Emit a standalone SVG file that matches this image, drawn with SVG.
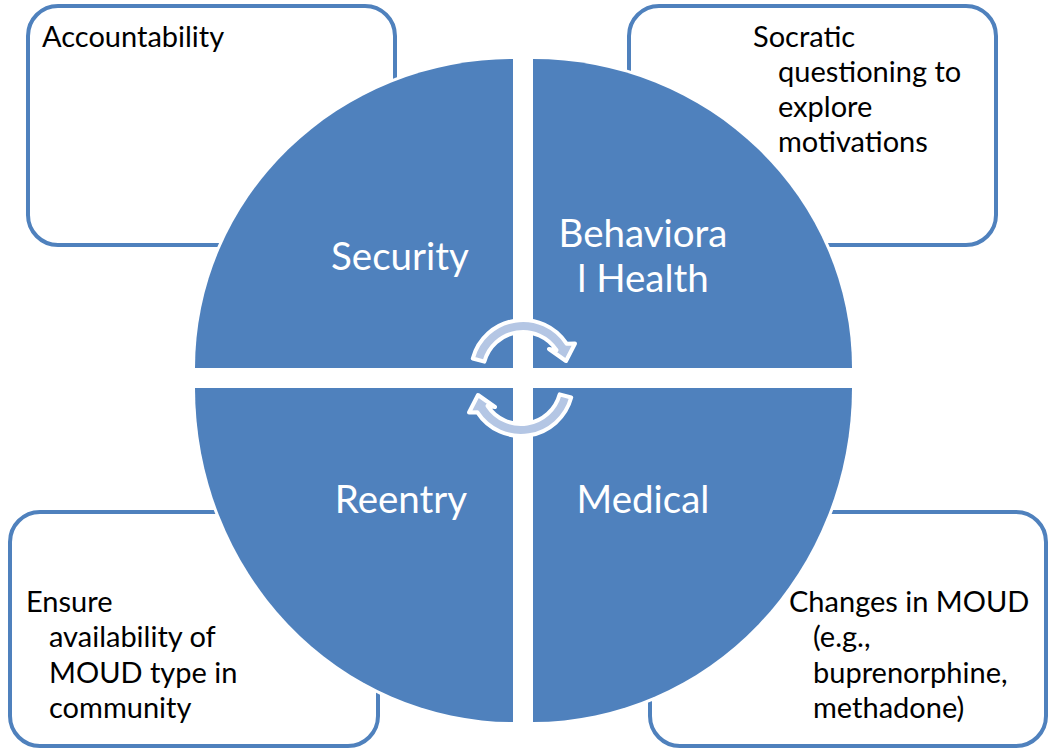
<svg xmlns="http://www.w3.org/2000/svg" width="1050" height="751" viewBox="0 0 1050 751">
<style>
.box{fill:#ffffff;stroke:#4F81BD;stroke-width:4}
.bt{font-family:Lato,"Liberation Sans",sans-serif;font-size:29px;fill:#000000}
.qt{font-family:Lato,"Liberation Sans",sans-serif;font-size:38.5px;fill:#ffffff;text-anchor:middle}
.halo{fill:#ffffff;stroke:#ffffff;stroke-width:6}
.quad{fill:#4F81BD}
.arr{fill:#B4C6E4;stroke:#ffffff;stroke-width:4;stroke-linejoin:round}
</style>
<defs>
<path id="arrowTop" class="arr" d="M472.8,358.5 A52,52 0 0 1 566.6,343.7 L575,343.5 L566,361 L549,349 L556.5,350.2 A40,40 0 0 0 484.4,361.6 Z"/>
</defs>
<rect width="1050" height="751" fill="#ffffff"/>
<g id="box-accountability"><rect class="box" x="28" y="6" width="367" height="239" rx="30"/><text class="bt" x="42" y="47">Accountability</text></g>
<g id="box-socratic"><rect class="box" x="629" y="6" width="367" height="239" rx="30"/><text class="bt"><tspan x="753" y="47">Socratic</tspan><tspan x="778" y="82">questioning to</tspan><tspan x="778" y="117">explore</tspan><tspan x="778" y="152">motivations</tspan></text></g>
<g id="box-ensure"><rect class="box" x="10" y="512" width="368" height="234" rx="30"/><text class="bt"><tspan x="26" y="612">Ensure</tspan><tspan x="49" y="647">availability of</tspan><tspan x="49" y="683">MOUD type in</tspan><tspan x="49" y="718">community</tspan></text></g>
<g id="box-changes"><rect class="box" x="650" y="512" width="396" height="234" rx="30"/><text class="bt"><tspan x="789" y="612">Changes in MOUD</tspan><tspan x="813" y="647">(e.g.,</tspan><tspan x="813" y="683">buprenorphine,</tspan><tspan x="813" y="718">methadone)</tspan></text></g>
<g id="halo">
<path class="halo" d="M513,368 L195,368 A318,309 0 0 1 513,59 Z"/>
<path class="halo" d="M533,368 L533,59 A319,309 0 0 1 852,368 Z"/>
<path class="halo" d="M513,388 L513,722 A318,334 0 0 1 195,388 Z"/>
<path class="halo" d="M533,388 L852,388 A319,334 0 0 1 533,722 Z"/>
</g>
<g id="security"><path class="quad" d="M513,368 L195,368 A318,309 0 0 1 513,59 Z"/><text class="qt" x="400" y="270">Security</text></g>
<g id="behavioral-health"><path class="quad" d="M533,368 L533,59 A319,309 0 0 1 852,368 Z"/><text class="qt"><tspan x="643" y="247">Behaviora</tspan><tspan x="643" y="292">l Health</tspan></text></g>
<g id="reentry"><path class="quad" d="M513,388 L513,722 A318,334 0 0 1 195,388 Z"/><text class="qt" x="401" y="513">Reentry</text></g>
<g id="medical"><path class="quad" d="M533,388 L852,388 A319,334 0 0 1 533,722 Z"/><text class="qt" x="643" y="513">Medical</text></g>
<g id="connectors">
<use href="#arrowTop"/>
<use href="#arrowTop" transform="rotate(180 522 378)"/>
</g>
</svg>
